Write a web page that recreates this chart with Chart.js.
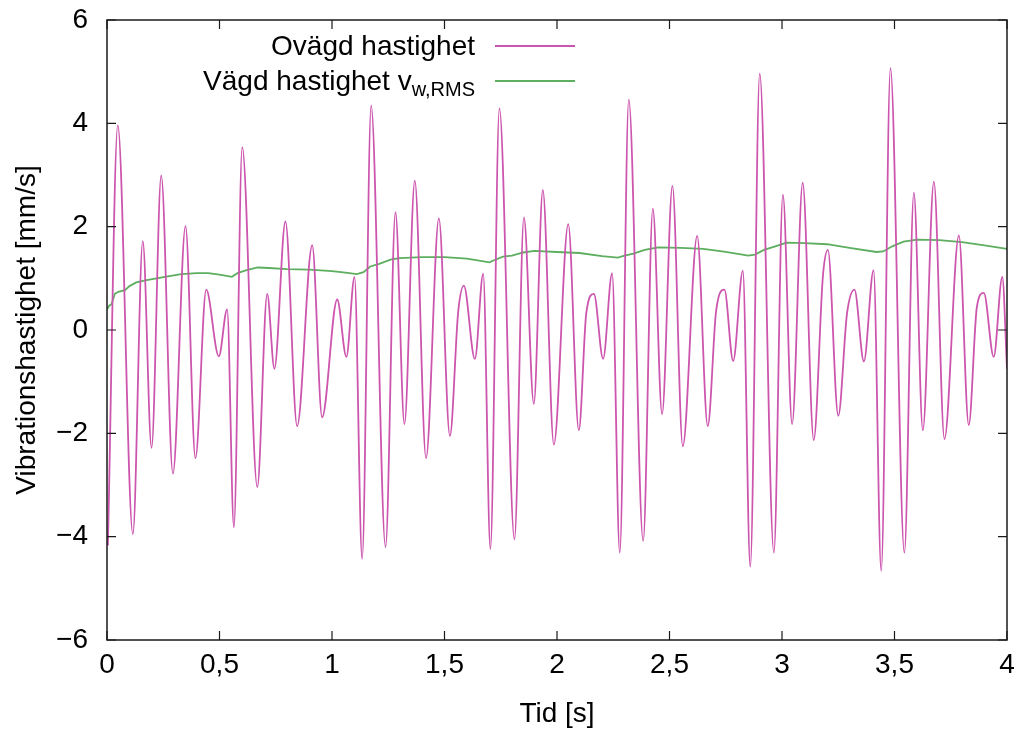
<!DOCTYPE html>
<html>
<head>
<meta charset="utf-8">
<title>Vibrationshastighet</title>
<script src="https://cdn.jsdelivr.net/npm/chart.js@4"></script>
<style>
  body { margin: 0; background: #fff; }
  canvas { display: block; }
</style>
</head>
<body>
<canvas id="velChart" width="1022" height="733"></canvas>
<script>
// unweighted velocity: turning points of the signal [s], [mm/s]
const rawTime = [
  0.004, 0.048, 0.115, 0.159, 0.198, 0.241, 0.293, 0.349, 0.393, 0.441,
  0.497, 0.534, 0.564, 0.601, 0.668, 0.712, 0.744, 0.793, 0.845, 0.912,
  0.956, 1.023, 1.064, 1.100, 1.134, 1.174, 1.238, 1.282, 1.322, 1.368,
  1.418, 1.475, 1.524, 1.561, 1.586, 1.635, 1.672, 1.704, 1.744, 1.811,
  1.853, 1.897, 1.937, 1.986, 2.050, 2.097, 2.130, 2.164, 2.205, 2.245,
  2.279, 2.319, 2.383, 2.426, 2.467, 2.513, 2.559, 2.623, 2.670, 2.707,
  2.744, 2.783, 2.826, 2.859, 2.901, 2.964, 3.004, 3.045, 3.092, 3.141,
  3.182, 3.204, 3.250, 3.289, 3.322, 3.364, 3.407, 3.441, 3.482, 3.544,
  3.586, 3.626, 3.675, 3.722, 3.786, 3.830, 3.866, 3.897, 3.941, 3.979,
  4.000
];
const rawVel = [
  -4.17, 3.96, -3.95, 1.72, -2.28, 2.99, -2.78, 2.01, -2.48, 0.78,
  -0.51, 0.40, -3.82, 3.54, -3.04, 0.70, -0.75, 2.10, -1.86, 1.64,
  -1.69, 0.59, -0.52, 1.03, -4.43, 4.34, -4.20, 2.28, -1.82, 2.89,
  -2.48, 2.16, -2.05, 0.36, 0.86, -0.56, 1.09, -4.24, 4.29, -4.05,
  2.18, -1.43, 2.71, -2.22, 2.05, -1.94, 0.32, 0.70, -0.56, 1.10,
  -4.31, 4.46, -4.08, 2.35, -1.63, 2.79, -2.25, 1.82, -1.86, 0.36,
  0.78, -0.60, 1.15, -4.58, 4.96, -4.31, 2.62, -1.82, 2.85, -2.13,
  1.05, 1.55, -1.66, 0.32, 0.78, -0.61, 1.16, -4.66, 5.07, -4.31,
  2.66, -1.94, 2.87, -2.11, 1.83, -1.84, 0.44, 0.72, -0.52, 1.03,
  -0.75
];

// running weighted RMS value
const rmsTime = [
  0, 0.01, 0.02, 0.035, 0.05, 0.08, 0.10, 0.13, 0.17, 0.22,
  0.27, 0.33, 0.40, 0.45, 0.50, 0.555, 0.58, 0.62, 0.67, 0.72,
  0.80, 0.90, 1.00, 1.06, 1.11, 1.14, 1.17, 1.21, 1.26, 1.30,
  1.40, 1.50, 1.60, 1.70, 1.72, 1.76, 1.80, 1.85, 1.90, 2.00,
  2.10, 2.20, 2.27, 2.30, 2.34, 2.39, 2.45, 2.55, 2.65, 2.75,
  2.85, 2.88, 2.92, 2.97, 3.02, 3.10, 3.20, 3.30, 3.42, 3.45,
  3.49, 3.54, 3.60, 3.70, 3.80, 3.90, 4.00
];
const rmsVel = [
  0.40, 0.47, 0.50, 0.70, 0.74, 0.77, 0.85, 0.92, 0.96, 1.00,
  1.04, 1.08, 1.10, 1.10, 1.07, 1.03, 1.10, 1.16, 1.21, 1.20,
  1.18, 1.17, 1.14, 1.11, 1.08, 1.12, 1.23, 1.28, 1.36, 1.39,
  1.41, 1.41, 1.38, 1.31, 1.35, 1.42, 1.44, 1.50, 1.53, 1.51,
  1.49, 1.43, 1.40, 1.44, 1.48, 1.55, 1.60, 1.59, 1.57, 1.51,
  1.44, 1.46, 1.55, 1.62, 1.69, 1.68, 1.66, 1.59, 1.51, 1.52,
  1.62, 1.71, 1.75, 1.74, 1.70, 1.64, 1.57
];

const xTicks = [0, 0.5, 1, 1.5, 2, 2.5, 3, 3.5, 4];
const yTicks = [-6, -4, -2, 0, 2, 4, 6];

const FONT = '"Liberation Sans", Arial, Helvetica, sans-serif';
const FS = 28;
const MAGENTA = '#cc55ae';
const GREEN = '#5dae5f';

const toPoints = (xs, ys) => xs.map((x, i) => ({ x: x, y: ys[i] }));

// gnuplot style frame with inward ticks on all four sides
const framePlugin = {
  id: 'frame',
  afterDraw(chart) {
    const { ctx, chartArea: a, scales } = chart;
    const len = 9;
    ctx.save();
    ctx.strokeStyle = '#1a1a1a';
    ctx.lineWidth = 1.5;
    ctx.strokeRect(a.left, a.top, a.right - a.left, a.bottom - a.top);
    ctx.lineWidth = 1.2;
    ctx.beginPath();
    scales.x.ticks.forEach(t => {
      const px = scales.x.getPixelForValue(t.value);
      ctx.moveTo(px, a.bottom); ctx.lineTo(px, a.bottom - len);
      ctx.moveTo(px, a.top); ctx.lineTo(px, a.top + len);
    });
    scales.y.ticks.forEach(t => {
      const py = scales.y.getPixelForValue(t.value);
      ctx.moveTo(a.left, py); ctx.lineTo(a.left + len, py);
      ctx.moveTo(a.right, py); ctx.lineTo(a.right - len, py);
    });
    ctx.stroke();
    ctx.restore();
  }
};

// key in the upper part of the plot, text right-aligned before the sample line
const keyPlugin = {
  id: 'key',
  afterDatasetsDraw(chart) {
    const ctx = chart.ctx;
    const textRight = 475;
    const lineX0 = 495, lineX1 = 575;
    const rows = [
      { y: 46, ds: chart.data.datasets[0], sub: null },
      { y: 81, ds: chart.data.datasets[1], sub: 'w,RMS' }
    ];
    ctx.save();
    ctx.fillStyle = '#000';
    ctx.textBaseline = 'alphabetic';
    rows.forEach(r => {
      let right = textRight;
      if (r.sub) {
        ctx.font = '20px ' + FONT;
        ctx.textAlign = 'right';
        ctx.fillText(r.sub, right, r.y + 15);
        right -= ctx.measureText(r.sub).width;
      }
      ctx.font = FS + 'px ' + FONT;
      ctx.textAlign = 'right';
      const main = r.sub ? 'Vägd hastighet v' : r.ds.label;
      ctx.fillText(main, right, r.y + 9);
      ctx.strokeStyle = r.ds.borderColor;
      ctx.lineWidth = 1.8;
      ctx.beginPath();
      ctx.moveTo(lineX0, r.y);
      ctx.lineTo(lineX1, r.y);
      ctx.stroke();
    });
    ctx.restore();
  }
};

new Chart(document.getElementById('velChart').getContext('2d'), {
  type: 'line',
  data: {
    datasets: [
      {
        label: 'Ovägd hastighet',
        data: toPoints(rawTime, rawVel),
        borderColor: MAGENTA,
        borderWidth: 1.8,
        pointRadius: 0,
        cubicInterpolationMode: 'monotone',
        fill: false
      },
      {
        label: 'Vägd hastighet v_w,RMS',
        data: toPoints(rmsTime, rmsVel),
        borderColor: GREEN,
        borderWidth: 1.8,
        pointRadius: 0,
        tension: 0,
        fill: false
      }
    ]
  },
  options: {
    responsive: false,
    animation: false,
    layout: { padding: { top: 20, right: 15, left: 0, bottom: 0 } },
    plugins: {
      legend: { display: false },
      tooltip: { enabled: false }
    },
    scales: {
      x: {
        type: 'linear',
        min: 0,
        max: 4,
        afterFit: s => { s.height = 93; s.paddingLeft = 0; s.paddingRight = 0; },
        afterBuildTicks: s => { s.ticks = xTicks.map(v => ({ value: v })); },
        grid: { display: false, drawTicks: false },
        border: { display: false },
        ticks: {
          color: '#000',
          padding: 8,
          maxRotation: 0,
          font: { family: FONT, size: FS },
          callback: v => String(v).replace('.', ',')
        },
        title: {
          display: true,
          text: 'Tid [s]',
          color: '#000',
          padding: { top: 0, bottom: 2 },
          font: { family: FONT, size: FS }
        }
      },
      y: {
        min: -6,
        max: 6,
        afterFit: s => { s.width = 107; s.paddingTop = 0; s.paddingBottom = 0; },
        afterBuildTicks: s => { s.ticks = yTicks.map(v => ({ value: v })); },
        grid: { display: false, drawTicks: false },
        border: { display: false },
        ticks: {
          color: '#000',
          padding: 19,
          font: { family: FONT, size: FS },
          callback: v => v < 0 ? '\u2212' + Math.abs(v) : String(v)
        },
        title: {
          display: true,
          text: 'Vibrationshastighet [mm/s]',
          color: '#000',
          padding: { top: 10, bottom: 0 },
          font: { family: FONT, size: FS }
        }
      }
    }
  },
  plugins: [framePlugin, keyPlugin]
});
</script>
</body>
</html>
